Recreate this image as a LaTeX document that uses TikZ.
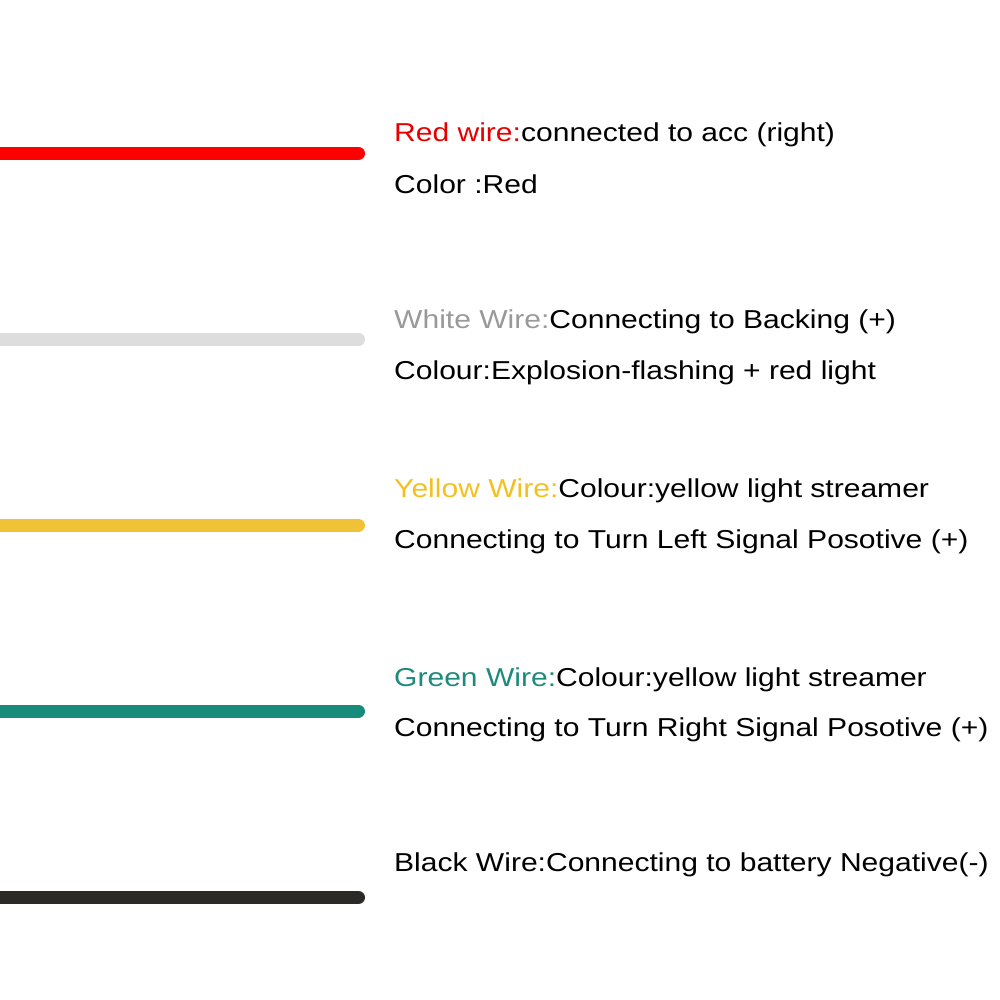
\documentclass[tikz,border=0pt]{standalone}
\usepackage{fontspec}
\setmainfont[FakeStretch=1.16]{Liberation Sans}
\usepackage{tikz}
\usetikzlibrary{positioning}

\definecolor{wirered}{HTML}{FF0000}
\definecolor{wirewhite}{HTML}{DDDDDD}
\definecolor{wireyellow}{HTML}{F0C235}
\definecolor{wiregreen}{HTML}{178C7C}
\definecolor{wireblack}{HTML}{2B2A27}
\definecolor{lblred}{HTML}{E60000}
\definecolor{lblwhite}{HTML}{999999}
\definecolor{lblyellow}{HTML}{F4C021}
\definecolor{lblgreen}{HTML}{1E8A7C}

\tikzset{
	wire/.style={line width=13pt, line cap=round},
	lbl/.style={inner sep=0pt, anchor=base west, font=\fontsize{25.9}{30}\selectfont}
}

\begin{document}
\begin{tikzpicture}[x=1pt,y=-1pt]

	\useasboundingbox (0,0) rectangle (1000,1000);
	\clip (0,0) rectangle (1000,1000);

	% wires
	\foreach \name/\ypos in {red/153.5, white/339.2, yellow/525.3, green/711, black/897.5}{
		\coordinate (\name L) at (-20,\ypos);
		\coordinate (\name R) at (358.5,\ypos);
	}
	\draw[wire, wirered] (redL) -- (redR);
	\draw[wire, wirewhite] (whiteL) -- (whiteR);
	\draw[wire, wireyellow] (yellowL) -- (yellowR);
	\draw[wire, wiregreen] (greenL) -- (greenR);
	\draw[wire, wireblack] (blackL) -- (blackR);

	% labels
	\node[lbl] (red1) at (394,141.5) {\textcolor{lblred}{Red wire:}connected to acc (right)};
	\node[lbl] (red2) at (394,193.5) {Color :Red};

	\node[lbl] (white1) at (394,328.2) {\textcolor{lblwhite}{White Wire:}Connecting to Backing (+)};
	\node[lbl] (white2) at (394,379) {Colour:Explosion-flashing + red light};

	\node[lbl] (yellow1) at (394,497.5) {\textcolor{lblyellow}{Yellow Wire:}Colour:yellow light streamer};
	\node[lbl] (yellow2) at (394,548) {Connecting to Turn Left Signal Posotive (+)};

	\node[lbl] (green1) at (394,686.7) {\textcolor{lblgreen}{Green Wire:}Colour:yellow light streamer};
	\node[lbl] (green2) at (394,736.5) {Connecting to Turn Right Signal Posotive (+)};

	\node[lbl] (black1) at (394,871.6) {Black Wire:Connecting to battery Negative(-)};

\end{tikzpicture}
\end{document}
